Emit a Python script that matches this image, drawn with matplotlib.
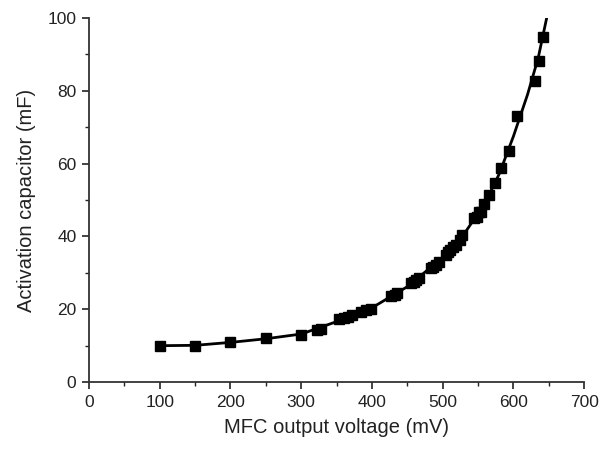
import matplotlib
matplotlib.use("Agg")
import matplotlib.pyplot as plt
from matplotlib.ticker import MultipleLocator

plt.rcParams['font.family'] = ['Liberation Sans', 'DejaVu Sans']

# measured points
voltage = [100, 150, 200, 250, 300, 322, 328, 354, 360, 366, 372, 385, 392, 399,
           427, 432, 436, 455, 459, 462, 466, 483, 487, 490, 495, 504, 508, 511,
           515, 519, 524, 528, 544, 549, 552, 554, 559, 566, 574, 583, 594, 605,
           630, 636, 642]
capacitor = [10, 10, 11.1, 12, 12.9, 14.3, 14.7, 17.2, 17.5, 17.9, 18.3, 19.3, 19.8, 20.2,
             23.6, 24, 24.4, 27.1, 27.6, 28, 28.5, 31.2, 31.7, 32.1, 33, 34.9, 35.6, 36.3,
             37, 37.6, 39, 40.4, 45, 45.4, 46.8, 46.8, 49, 51.4, 54.6, 58.7, 63.5, 73,
             82.7, 88.2, 94.8]

# fitted curve
fit_x = [100, 150, 200, 250, 300, 350, 400, 450, 500, 530, 560, 580, 600, 620, 635, 647]
fit_y = [10, 10.1, 10.9, 11.9, 13.2, 16.6, 20.4, 26.2, 34.2, 40.6, 49.2, 57.2, 67.5, 79, 89, 100]

fig = plt.figure(figsize=(6.01, 4.49), dpi=100)
ax = fig.add_axes([0.148, 0.149, 0.824, 0.811])

ax.plot(fit_x, fit_y, color='black', lw=2, zorder=2)
ax.plot(voltage, capacitor, 's', color='black', ms=7, zorder=3)

ax.set_xlim(0, 700)
ax.set_ylim(0, 100)
ax.xaxis.set_major_locator(MultipleLocator(100))
ax.xaxis.set_minor_locator(MultipleLocator(50))
ax.yaxis.set_major_locator(MultipleLocator(20))
ax.yaxis.set_minor_locator(MultipleLocator(10))

for side in ['top', 'right']:
    ax.spines[side].set_visible(False)
for side in ['left', 'bottom']:
    ax.spines[side].set_linewidth(1.3)
    ax.spines[side].set_color('#333333')

ax.tick_params(which='major', direction='out', length=5, width=1.2, labelsize=12.5,
               colors='#222222', pad=4)
ax.tick_params(which='minor', direction='out', length=3, width=1.0, colors='#222222')

ax.set_xlabel('MFC output voltage (mV)', fontsize=14.5, color='#222222', labelpad=6)
ax.set_ylabel('Activation capacitor (mF)', fontsize=14.5, color='#222222', labelpad=8)

fig.savefig('out.png', dpi=100)
